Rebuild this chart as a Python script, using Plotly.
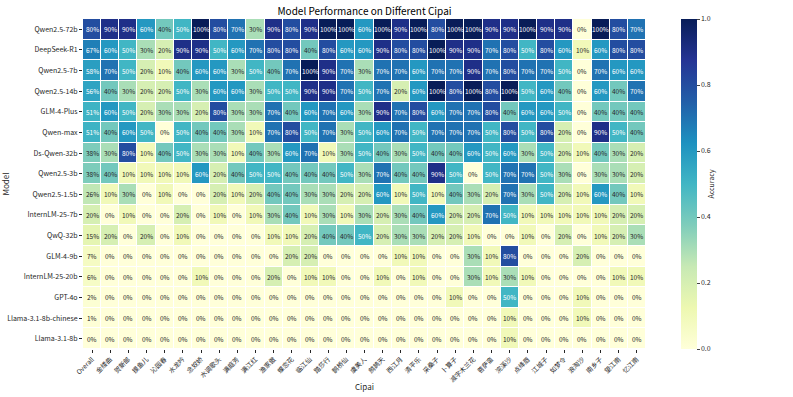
import plotly.graph_objects as go
import plotly.express as px

models = ["Qwen2.5-72b", "DeepSeek-R1", "Qwen2.5-7b", "Qwen2.5-14b", "GLM-4-Plus", "Qwen-max",
          "Ds-Qwen-32b", "Qwen2.5-3b", "Qwen2.5-1.5b", "InternLM-25-7b", "QwQ-32b", "GLM-4-9b",
          "InternLM-25-20b", "GPT-4o", "Llama-3.1-8b-chinese", "Llama-3.1-8b"]

cipai = ["Overall", "金缕曲", "贺新郎", "摸鱼儿", "沁园春", "水龙吟", "念奴娇", "水调歌头", "满庭芳", "满江红",
         "渔家傲", "蝶恋花", "临江仙", "踏莎行", "鹊桥仙", "虞美人", "鹧鸪天", "西江月", "清平乐", "采桑子",
         "卜算子", "减字木兰花", "菩萨蛮", "浣溪沙", "点绛唇", "江城子", "如梦令", "浪淘沙", "南乡子", "望江南", "忆江南"]

qwen25_72b = [80,90,90,60,40,50,100,80,70,30, 90,80,90,100,100,60,100,90,100,80, 100,100,90,90,100,90,90,0,100,80,70]
deepseek_r1 = [67,60,50,30,20,90,90,50,60,70, 80,80,40,80,60,60,90,80,80,100, 90,90,70,80,50,80,60,10,60,80,80]
qwen25_7b = [58,70,50,20,10,40,60,60,30,50, 40,70,100,90,70,30,70,70,60,70, 70,90,70,80,70,70,50,0,70,60,60]
qwen25_14b = [56,40,30,20,20,50,30,60,60,30, 50,50,90,90,70,50,70,20,60,100, 80,100,80,100,50,60,40,0,60,40,70]
glm4_plus = [51,60,50,20,30,30,20,80,30,30, 70,40,60,70,60,30,90,70,80,60, 70,70,80,40,60,60,50,0,40,40,40]
qwen_max = [51,40,60,50,0,50,40,40,30,10, 70,80,50,70,30,50,60,70,50,70, 70,70,50,80,50,80,20,0,90,50,40]
ds_qwen_32b = [38,30,80,10,40,50,30,30,10,40, 30,60,70,10,30,50,40,30,50,40, 40,60,50,60,30,50,20,10,40,30,20]
qwen25_3b = [38,40,10,10,10,10,60,20,40,50, 50,40,40,40,50,30,70,40,40,90, 50,0,50,70,70,50,30,0,30,30,20]
qwen25_1_5b = [26,10,30,0,10,0,0,20,10,20, 40,40,30,30,20,20,60,10,50,10, 40,30,20,70,30,50,20,10,60,40,10]
internlm_7b = [20,0,10,0,0,20,0,10,0,10, 30,40,10,30,10,30,20,30,40,60, 20,20,70,50,10,10,10,10,10,20,20]
qwq_32b = [15,20,0,20,0,10,0,0,0,0, 10,10,20,40,40,50,20,30,30,20, 20,10,0,0,10,0,20,0,10,20,30]
glm4_9b = [7,0,0,0,0,0,0,0,0,0, 0,20,20,0,0,0,0,10,10,0, 0,30,10,80,0,0,0,20,0,0,0]
internlm_20b = [6,0,0,0,0,0,10,0,0,0, 20,0,10,10,0,0,10,0,10,0, 0,30,10,30,10,0,0,0,0,10,10]
gpt_4o = [2,0,0,0,0,0,0,0,0,0, 0,0,0,0,0,0,0,0,0,0, 10,0,0,50,0,0,0,10,0,0,0]
llama_chinese = [1,0,0,0,0,0,0,0,0,0, 0,0,0,0,0,0,0,0,0,0, 0,0,0,10,0,0,0,10,0,0,0]
llama_8b = [0,0,0,0,0,0,0,0,0,0, 0,0,0,0,0,0,0,0,0,0, 0,0,0,10,0,0,0,0,0,0,0]

rows = [qwen25_72b, deepseek_r1, qwen25_7b, qwen25_14b, glm4_plus, qwen_max, ds_qwen_32b, qwen25_3b,
        qwen25_1_5b, internlm_7b, qwq_32b, glm4_9b, internlm_20b, gpt_4o, llama_chinese, llama_8b]
z = [[v / 100 for v in r] for r in rows]

FONT = "Noto Sans CJK SC, DejaVu Sans, sans-serif"
DARK = "#262626"

fig = go.Figure(go.Heatmap(
    z=z, x=cipai, y=models,
    colorscale=px.colors.sequential.YlGnBu, zmin=0, zmax=1,
    xgap=1, ygap=1,
    colorbar=dict(
        title=dict(text="Accuracy", side="right", font=dict(size=7, family=FONT, color=DARK)),
        x=1.063, xanchor="left", y=0.5, yanchor="middle", len=1, lenmode="fraction",
        thickness=16, outlinewidth=0, tickvals=[0, 0.2, 0.4, 0.6, 0.8, 1.0],
        tickformat=".1f", ticks="outside", ticklen=3, tickfont=dict(size=7, family=FONT, color=DARK),
        xpad=0, ypad=0,
    ),
    hoverongaps=False,
))

annotations = []
for i, m in enumerate(models):
    for j, c in enumerate(cipai):
        v = rows[i][j]
        annotations.append(dict(
            x=c, y=m, xref="x", yref="y", text=f"{v}%", showarrow=False,
            font=dict(size=6.5, family=FONT, color="white" if v >= 45 else DARK),
        ))

annotations.append(dict(
    x=0.5, y=-0.115, xref="paper", yref="paper", text="Cipai", showarrow=False,
    xanchor="center", yanchor="middle", font=dict(size=8, family=FONT, color=DARK),
))

fig.update_layout(
    width=793, height=397,
    margin=dict(l=83, r=147, t=19, b=48, autoexpand=False),
    paper_bgcolor="white", plot_bgcolor="white",
    font=dict(family=FONT, color=DARK),
    title=dict(text="Model Performance on Different Cipai", x=(83 + 646) / 2 / 793, xanchor="center",
               y=0.98, yanchor="top", font=dict(size=10, family=FONT, color="black")),
    annotations=annotations,
    xaxis=dict(tickangle=-45, tickfont=dict(size=6.5, family=FONT, color=DARK), ticks="outside", ticklen=3,
               tickcolor=DARK, showgrid=False, zeroline=False, automargin=False),
    yaxis=dict(title=dict(text="Model", font=dict(size=8, family=FONT, color=DARK)), autorange="reversed",
               tickfont=dict(size=7, family=FONT, color=DARK), ticks="outside", ticklen=3,
               tickcolor=DARK, showgrid=False, zeroline=False, automargin=False),
)

fig.write_html("out.html", config={"displayModeBar": False},
               post_script="document.body.style.margin='0';document.body.style.padding='0';")
